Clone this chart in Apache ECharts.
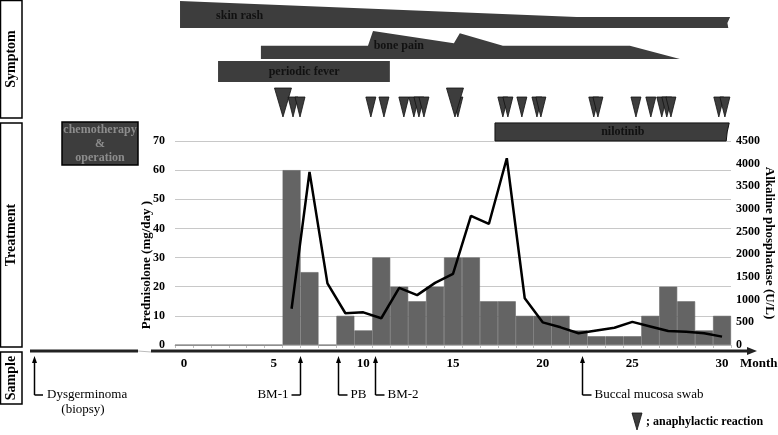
<!DOCTYPE html>
<html lang="en">
<head>
<meta charset="utf-8" />
<title>Clinical course</title>
<script src="https://cdn.jsdelivr.net/npm/echarts@6/dist/echarts.min.js"></script>
<style>
  html, body { margin: 0; padding: 0; background: #fff; }
  #main { width: 778px; height: 435px; }
</style>
</head>
<body>
<div id="main"></div>
<script>
// months 0..30 (category axis)
var months = [];
for (var i = 0; i <= 30; i++) months.push(String(i));

// prednisolone mg/day, one value per month
var prednisolone = [0, 0, 0, 0, 0, 0, 60, 25, 0, 10, 5, 30, 20, 15, 20, 30, 30, 15, 15, 10, 10, 10, 5, 3, 3, 3, 10, 20, 15, 5, 10];

// alkaline phosphatase U/L
var alp = [null, null, null, null, null, null, 800, 3820, 1360, 700, 720, 590, 1260, 1100, 1370, 1570, 2850, 2670, 4120, 1030, 500, 390, 260, 320, 380, 510, 410, 310, 290, 260, 185];

var leftTicks = { min: 0, max: 70, step: 10 };
var rightTicks = { min: 0, max: 4500, step: 500 };

// symptom outlines: [month, level] (level = height in the symptom band)
var skinRash = [[-0.22, 90], [-0.22, 117], [21.9, 101], [30.45, 101], [30.3, 95], [30.35, 90]];
var bonePain = [[4.29, 59], [4.29, 72.3], [10.26, 72.3], [10.54, 87], [15.05, 74.7], [15.38, 84.7], [17.78, 72.3], [24.86, 72.3], [27.65, 59]];
var periodicFever = [[1.9, 36], [1.9, 57], [11.48, 57], [11.48, 36]];
var symptomNames = ['skin rash', 'bone pain', 'periodic fever'];
var symptomLabelAt = [[3.1, 102], [11.98, 72], [6.7, 46]];

// anaphylactic reactions: month, big (1) or small (0)
var anaphylaxis = [[5.52, 1], [6.08, 0], [6.47, 0], [10.42, 0], [11.15, 0], [12.26, 0], [12.82, 0], [13.1, 0], [13.38, 0],
  [15.27, 0], [15.11, 1], [17.78, 0], [18.06, 0], [18.84, 0], [19.68, 0], [19.9, 0], [22.85, 0], [23.08, 0],
  [25.2, 0], [26.03, 0], [26.64, 0], [26.92, 0], [27.15, 0], [29.82, 0], [30.16, 0]];

// nilotinib from month 17.3 onward
var nilotinib = { start: 17.34, end: 30.4, name: 'nilotinib' };

// samples: month, label, side
var samples = [[6.47, 'BM-1', 'left'], [8.57, 'PB', 'right'], [10.65, 'BM-2', 'right'], [22.17, 'Buccal mucosa swab', 'right']];

var SERIF = '"Liberation Serif", "Times New Roman", serif';
var DARK = '#3d3d3d';

var myChart = echarts.init(document.getElementById('main'));

var option = {
  animation: false,
  grid: [
    { left: 175, right: 47, top: 141, bottom: 90, containLabel: false, outerBoundsMode: 'none' },
    { left: 175, right: 47, top: 0, height: 118, containLabel: false, outerBoundsMode: 'none' }
  ],
  xAxis: [
    {
      type: 'category', gridIndex: 0, data: months, boundaryGap: true,
      axisLine: { lineStyle: { color: '#bdbdbd' } },
      axisTick: { show: true, interval: 0, length: 3, lineStyle: { color: '#bdbdbd' } },
      axisLabel: {
        interval: function (idx) { return idx % 5 === 0; },
        margin: 12, color: '#000', fontFamily: SERIF, fontWeight: 'bold', fontSize: 13
      }
    },
    { type: 'value', gridIndex: 0, min: -0.5, max: 30.5, show: false },
    { type: 'value', gridIndex: 1, min: -0.5, max: 30.5, show: false }
  ],
  yAxis: [
    {
      type: 'value', gridIndex: 0, min: leftTicks.min, max: leftTicks.max, interval: leftTicks.step,
      axisLine: { show: false }, axisTick: { show: false },
      splitLine: { lineStyle: { color: '#c8c8c8', width: 1 } },
      axisLabel: { margin: 10, color: '#000', fontFamily: SERIF, fontWeight: 'bold', fontSize: 12 },
      name: 'Prednisolone (mg/day )', nameLocation: 'middle', nameGap: 22, nameRotate: 90, nameMoveOverlap: false,
      nameTextStyle: { color: '#000', fontFamily: SERIF, fontWeight: 'bold', fontSize: 13, padding: [0, 44, 0, 0] }
    },
    {
      type: 'value', gridIndex: 0, position: 'right', min: rightTicks.min, max: rightTicks.max, interval: rightTicks.step,
      axisLine: { show: false }, axisTick: { show: false }, splitLine: { show: false },
      axisLabel: { margin: 5, color: '#000', fontFamily: SERIF, fontWeight: 'bold', fontSize: 12, formatter: function (v) { return String(v); } },
      name: 'Alkaline phosphatase (U/L)', nameLocation: 'middle', nameGap: 32, nameRotate: -90, nameMoveOverlap: false,
      nameTextStyle: { color: '#000', fontFamily: SERIF, fontWeight: 'bold', fontSize: 13 }
    },
    { type: 'value', gridIndex: 1, min: 0, max: 118, show: false }
  ],
  series: [
    {
      name: 'Prednisolone', type: 'bar', xAxisIndex: 0, yAxisIndex: 0,
      data: prednisolone, barCategoryGap: 0,
      itemStyle: { color: '#646464', borderColor: '#646464', borderWidth: 0.6 }
    },
    {
      name: 'ALP', type: 'line', xAxisIndex: 0, yAxisIndex: 1,
      data: alp, symbol: 'none', lineStyle: { color: '#000', width: 2.5 }, z: 5
    },
    {
      name: 'Symptoms', type: 'custom', xAxisIndex: 2, yAxisIndex: 2, clip: false,
      data: [[0, 0], [1, 0], [2, 0]],
      renderItem: function (params, api) {
        var outline = [skinRash, bonePain, periodicFever][params.dataIndex];
        var pts = outline.map(function (p) { return api.coord(p); });
        var lp = api.coord(symptomLabelAt[params.dataIndex]);
        return {
          type: 'group', children: [
            { type: 'polygon', shape: { points: pts }, style: { fill: DARK } },
            { type: 'text', x: lp[0], y: lp[1], style: { text: symptomNames[params.dataIndex], fill: '#111', font: 'bold 12px ' + SERIF, align: 'center', verticalAlign: 'middle' } }
          ]
        };
      }
    },
    {
      name: 'anaphylactic reaction', type: 'custom', xAxisIndex: 2, yAxisIndex: 2, clip: false,
      data: anaphylaxis.map(function (a) { return [a[0], 1, a[1]]; }),
      renderItem: function (params, api) {
        var tip = api.coord([api.value(0), api.value(1)]);
        var big = api.value(2) === 1;
        var w = big ? 17 : 10, h = big ? 29 : 20;
        return {
          type: 'polygon',
          shape: { points: [[tip[0] - w / 2, tip[1] - h], [tip[0] + w / 2, tip[1] - h], [tip[0], tip[1]]] },
          style: { fill: DARK, stroke: '#111', lineWidth: 0.8 }
        };
      }
    },
    {
      name: 'nilotinib', type: 'custom', xAxisIndex: 1, yAxisIndex: 0, clip: false,
      data: [[nilotinib.start, 70]],
      renderItem: function (params, api) {
        var a = api.coord([nilotinib.start, 70]);
        var b = api.coord([nilotinib.end, 76.2]);
        var mid = api.coord([(nilotinib.start + nilotinib.end) / 2 + 0.6, 73.1]);
        return {
          type: 'group', children: [
            { type: 'polygon', shape: { points: [[a[0], b[1]], [b[0], b[1]], [b[0] - 2, (a[1] + b[1]) / 2], [b[0] - 3, a[1]], [a[0], a[1]]] },
              style: { fill: DARK, stroke: '#111', lineWidth: 1 } },
            { type: 'text', x: mid[0], y: mid[1], style: { text: nilotinib.name, fill: '#111', font: 'bold 12px ' + SERIF, align: 'center', verticalAlign: 'middle' } }
          ]
        };
      }
    },
    {
      name: 'Samples', type: 'custom', xAxisIndex: 1, yAxisIndex: 0, clip: false,
      data: samples.map(function (s) { return [s[0], 0]; }),
      renderItem: function (params, api) {
        var s = samples[params.dataIndex];
        var p = api.coord([s[0], 0]);
        var x = Math.round(p[0]) + 0.5, top = p[1] + 11, bot = p[1] + 50;
        var dir = s[2] === 'left' ? -1 : 1;
        return {
          type: 'group', children: [
            { type: 'polygon', shape: { points: [[x, top], [x - 2.5, top + 7], [x + 2.5, top + 7]] }, style: { fill: '#000' } },
            { type: 'line', shape: { x1: x, y1: top + 5, x2: x, y2: bot }, style: { stroke: '#000', lineWidth: 1.5 } },
            { type: 'line', shape: { x1: x, y1: bot, x2: x + dir * 9, y2: bot }, style: { stroke: '#000', lineWidth: 1.5 } },
            { type: 'text', x: x + dir * 12, y: bot, style: { text: s[1], fill: '#000', font: '13px ' + SERIF, align: dir < 0 ? 'right' : 'left', verticalAlign: 'middle' } }
          ]
        };
      }
    }
  ],
  graphic: [
    // row boxes
    { type: 'rect', shape: { x: 0.5, y: 0.5, width: 21.5, height: 117.5 }, style: { fill: '#fff', stroke: '#000', lineWidth: 1.5 } },
    { type: 'rect', shape: { x: 0.5, y: 123, width: 21.5, height: 224 }, style: { fill: '#fff', stroke: '#000', lineWidth: 1.5 } },
    { type: 'rect', shape: { x: 0.5, y: 352, width: 21.5, height: 52 }, style: { fill: '#fff', stroke: '#000', lineWidth: 1.5 } },
    { type: 'text', x: 11, y: 59, rotation: Math.PI / 2, style: { text: 'Symptom', font: 'bold 14px ' + SERIF, fill: '#000', align: 'center', verticalAlign: 'middle' } },
    { type: 'text', x: 11, y: 235, rotation: Math.PI / 2, style: { text: 'Treatment', font: 'bold 14px ' + SERIF, fill: '#000', align: 'center', verticalAlign: 'middle' } },
    { type: 'text', x: 11, y: 378, rotation: Math.PI / 2, style: { text: 'Sample', font: 'bold 14px ' + SERIF, fill: '#000', align: 'center', verticalAlign: 'middle' } },
    // chemotherapy box (before time 0)
    { type: 'rect', shape: { x: 62, y: 122, width: 76, height: 43 }, style: { fill: DARK, stroke: '#000', lineWidth: 1.5 } },
    { type: 'text', x: 100, y: 143.5, style: { text: 'chemotherapy\n&\noperation', font: 'bold 12px ' + SERIF, lineHeight: 14, fill: '#8c8c8c', align: 'center', verticalAlign: 'middle' } },
    // time line with break
    { type: 'line', shape: { x1: 30, y1: 351, x2: 138, y2: 351 }, style: { stroke: '#222', lineWidth: 3 } },
    { type: 'line', shape: { x1: 138, y1: 351, x2: 151, y2: 352 }, style: { stroke: '#bbb', lineWidth: 1 } },
    { type: 'line', shape: { x1: 151, y1: 351, x2: 750, y2: 351 }, style: { stroke: '#222', lineWidth: 3 } },
    { type: 'polygon', shape: { points: [[747, 347], [757, 351], [747, 355]] }, style: { fill: '#222' } },
    { type: 'text', x: 740, y: 364, style: { text: 'Month', font: 'bold 13px ' + SERIF, fill: '#000', align: 'left', verticalAlign: 'middle' } },
    // dysgerminoma biopsy arrow
    { type: 'polygon', shape: { points: [[34.5, 356], [32, 363], [37, 363]] }, style: { fill: '#000' } },
    { type: 'line', shape: { x1: 34.5, y1: 360, x2: 34.5, y2: 395 }, style: { stroke: '#000', lineWidth: 1.5 } },
    { type: 'line', shape: { x1: 34.5, y1: 395, x2: 43, y2: 395 }, style: { stroke: '#000', lineWidth: 1.5 } },
    { type: 'text', x: 47, y: 395, style: { text: 'Dysgerminoma', font: '13px ' + SERIF, fill: '#000', align: 'left', verticalAlign: 'middle' } },
    { type: 'text', x: 83, y: 410, style: { text: '(biopsy)', font: '13px ' + SERIF, fill: '#000', align: 'center', verticalAlign: 'middle' } },
    // legend
    { type: 'polygon', shape: { points: [[632, 413], [642, 413], [637, 430]] }, style: { fill: DARK, stroke: '#111', lineWidth: 0.8 } },
    { type: 'text', x: 646, y: 422, style: { text: '; anaphylactic reaction', font: 'bold 12px ' + SERIF, fill: '#000', align: 'left', verticalAlign: 'middle' } }
  ]
};

myChart.setOption(option);
</script>
</body>
</html>
